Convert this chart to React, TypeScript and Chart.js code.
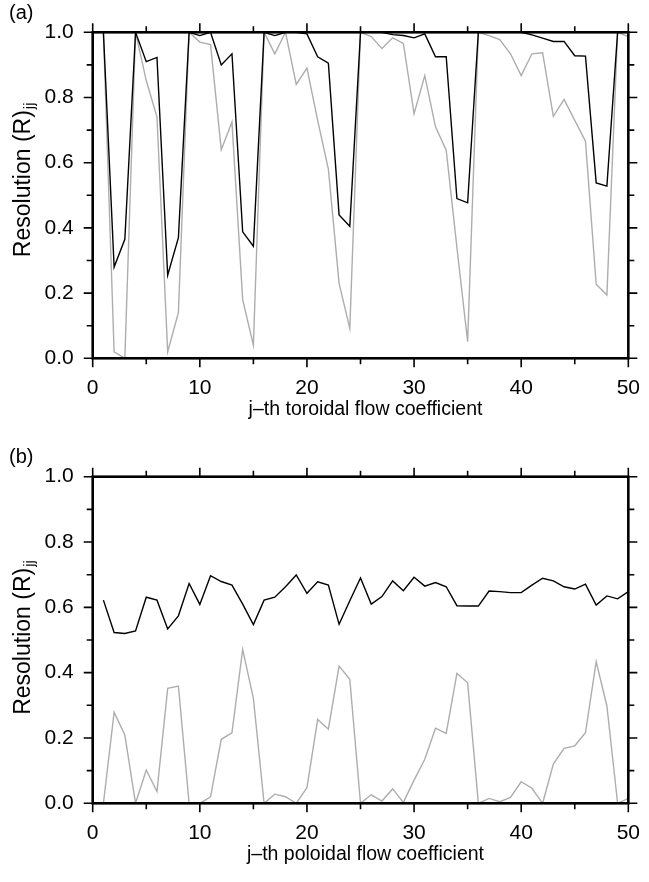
import React, { useEffect, useRef } from "react";
import { Chart, registerables } from "chart.js";

Chart.register(...registerables);

// ---- data ----
const jIndex = [
  1, 2, 3, 4, 5, 6, 7, 8, 9, 10, 11, 12, 13, 14, 15, 16, 17, 18, 19, 20, 21, 22, 23, 24, 25,
  26, 27, 28, 29, 30, 31, 32, 33, 34, 35, 36, 37, 38, 39, 40, 41, 42, 43, 44, 45, 46, 47, 48, 49, 50,
];

const toroidalBlack = [
  1.0, 0.28, 0.365, 1.0, 0.91, 0.923, 0.255, 0.37, 1.0, 0.99,
  1.0, 0.9, 0.934, 0.388, 0.344, 1.0, 0.99, 1.0, 1.0, 0.995,
  0.925, 0.905, 0.44, 0.405, 1.0, 1.0, 1.0, 0.993, 0.99, 0.983,
  0.995, 0.925, 0.925, 0.49, 0.477, 1.0, 1.0, 1.0, 1.0, 1.0,
  0.992, 0.982, 0.972, 0.972, 0.928, 0.927, 0.538, 0.528, 1.0, 1.0,
];

const toroidalGray = [
  1.0, 0.02, 0.0, 1.0, 0.852, 0.74, 0.02, 0.14, 1.0, 0.97,
  0.962, 0.64, 0.725, 0.18, 0.04, 1.0, 0.934, 1.0, 0.84, 0.89,
  0.73, 0.58, 0.23, 0.092, 1.0, 0.987, 0.95, 0.983, 0.966, 0.75,
  0.867, 0.71, 0.638, 0.34, 0.051, 1.0, 0.99, 0.978, 0.934, 0.867,
  0.934, 0.937, 0.742, 0.794, 0.73, 0.666, 0.227, 0.194, 1.0, 0.987,
];

const poloidalBlack = [
  0.622, 0.523, 0.52, 0.528, 0.631, 0.622, 0.534, 0.574, 0.673, 0.609,
  0.697, 0.679, 0.668, 0.61, 0.547, 0.622, 0.631, 0.663, 0.699, 0.643,
  0.678, 0.668, 0.548, 0.62, 0.69, 0.61, 0.633, 0.681, 0.651, 0.692,
  0.665, 0.676, 0.663, 0.605, 0.604, 0.604, 0.65, 0.648, 0.645, 0.645,
  0.668, 0.689, 0.681, 0.663, 0.656, 0.671, 0.607, 0.635, 0.626, 0.648,
];

const poloidalGray = [
  0.0, 0.279, 0.209, 0.0, 0.102, 0.036, 0.352, 0.359, 0.0, 0.0,
  0.02, 0.196, 0.216, 0.471, 0.321, 0.0, 0.028, 0.02, 0.0, 0.048,
  0.257, 0.227, 0.42, 0.38, 0.0, 0.026, 0.007, 0.044, 0.003, 0.071,
  0.135, 0.23, 0.214, 0.398, 0.369, 0.0, 0.015, 0.005, 0.018, 0.066,
  0.046, 0.0, 0.12, 0.168, 0.176, 0.216, 0.434, 0.298, 0.0, 0.015,
];

const xTickLabels = ["0", "10", "20", "30", "40", "50"];
const yTickLabels = ["0.0", "0.2", "0.4", "0.6", "0.8", "1.0"];

// ---- layout constants ----
const W = 649;
const H = 441;
const FONT = "'Liberation Sans', Arial, Helvetica, sans-serif";
const CHART_LEFT = 92.7;
const CHART_RIGHT = 636.7;

const framePlugin = {
  id: "frameTicks",
  afterDraw(chart: any, _args: any, opts: any) {
    const { ctx, chartArea: a, scales } = chart;
    const x = scales.x;
    const y = scales.y;
    ctx.save();
    ctx.strokeStyle = "#000";
    ctx.lineCap = "butt";
    ctx.lineWidth = 1.6;
    // x ticks (bottom & top)
    x.ticks.forEach((t: any) => {
      const px = x.getPixelForValue(t.value);
      const major = xTickLabels.includes(String(t.value));
      const len = major ? 9 : 6;
      ctx.beginPath();
      ctx.moveTo(px, a.bottom);
      ctx.lineTo(px, a.bottom + len);
      ctx.moveTo(px, a.top);
      ctx.lineTo(px, a.top - len);
      ctx.stroke();
    });
    // y ticks (left & right)
    y.ticks.forEach((t: any) => {
      const py = y.getPixelForValue(t.value);
      const major = yTickLabels.includes(Number(t.value).toFixed(1));
      const len = major ? 9 : 6;
      ctx.beginPath();
      ctx.moveTo(a.left, py);
      ctx.lineTo(a.left - len, py);
      ctx.moveTo(a.right, py);
      ctx.lineTo(a.right + len, py);
      ctx.stroke();
    });
    // frame
    ctx.lineWidth = 2.6;
    ctx.strokeRect(a.left, a.top, a.right - a.left, a.bottom - a.top);

    // x title
    ctx.fillStyle = "#000";
    ctx.textAlign = "center";
    ctx.textBaseline = "middle";
    ctx.font = `19.5px ${FONT}`;
    ctx.fillText(opts.xTitle, (a.left + a.right) / 2 + 5, a.bottom + 51);

    // y title with subscript
    const main = "Resolution (R)";
    const sub = "jj";
    ctx.font = `23px ${FONT}`;
    const mw = ctx.measureText(main).width;
    ctx.font = `15px ${FONT}`;
    const sw = ctx.measureText(sub).width;
    const total = mw + sw;
    ctx.save();
    ctx.translate(22, (a.top + a.bottom) / 2 + opts.yTitleShift);
    ctx.rotate(-Math.PI / 2);
    ctx.textAlign = "left";
    ctx.textBaseline = "alphabetic";
    ctx.font = `23px ${FONT}`;
    ctx.fillText(main, -total / 2, 8);
    ctx.font = `15px ${FONT}`;
    ctx.fillText(sub, -total / 2 + mw + 1, 12);
    ctx.restore();

    // panel tag
    ctx.textAlign = "left";
    ctx.textBaseline = "middle";
    ctx.font = `20px ${FONT}`;
    ctx.fillText(opts.tag, 9, a.top - 19);
    ctx.restore();
  },
};

type PanelProps = {
  tag: string;
  xTitle: string;
  black: number[];
  gray: number[];
  chartTop: number;
  chartBottom: number;
  yTitleShift: number;
  top: number;
};

function Panel({ tag, xTitle, black, gray, chartTop, chartBottom, yTitleShift, top }: PanelProps) {
  const ref = useRef<HTMLCanvasElement | null>(null);
  useEffect(() => {
    if (!ref.current) return;
    const chart = new Chart(ref.current, {
      type: "line",
      data: {
        datasets: [
          {
            data: black.map((v, i) => ({ x: jIndex[i], y: v })),
            borderColor: "#000000",
            borderWidth: 1.4,
            pointRadius: 0,
            tension: 0,
            fill: false,
          },
          {
            data: gray.map((v, i) => ({ x: jIndex[i], y: v })),
            borderColor: "#adadad",
            borderWidth: 1.4,
            pointRadius: 0,
            tension: 0,
            fill: false,
          },
        ],
      },
      options: {
        responsive: false,
        animation: false,
        devicePixelRatio: 1,
        layout: { padding: { top: chartTop, right: W - CHART_RIGHT, left: 0, bottom: 0 } },
        plugins: {
          legend: { display: false },
          tooltip: { enabled: false },
          frameTicks: { tag, xTitle, yTitleShift },
        } as any,
        scales: {
          x: {
            type: "linear",
            min: 0,
            max: 50,
            afterFit: (s: any) => {
              s.height = H - chartBottom;
            },
            grid: { display: false },
            border: { display: false },
            ticks: {
              stepSize: 5,
              autoSkip: false,
              maxRotation: 0,
              minRotation: 0,
              padding: 9,
              color: "#000",
              font: { family: FONT, size: 21 },
              callback: (v: any) => {
                const s = String(v);
                return xTickLabels.includes(s) ? s : "";
              },
            },
          },
          y: {
            type: "linear",
            min: 0,
            max: 1,
            afterFit: (s: any) => {
              s.width = CHART_LEFT;
            },
            grid: { display: false },
            border: { display: false },
            ticks: {
              stepSize: 0.1,
              autoSkip: false,
              padding: 11,
              color: "#000",
              font: { family: FONT, size: 21 },
              callback: (v: any) => {
                const s = Number(v).toFixed(1);
                return yTickLabels.includes(s) ? s : "";
              },
            },
          },
        },
      } as any,
      plugins: [framePlugin],
    });
    return () => chart.destroy();
  }, [tag, xTitle, black, gray, chartTop, chartBottom, yTitleShift]);

  return (
    <canvas
      ref={ref}
      width={W}
      height={H}
      style={{ position: "absolute", left: 0, top, width: W, height: H, display: "block" }}
    />
  );
}

export default function App() {
  return (
    <div style={{ position: "absolute", left: 0, top: 0, width: W, height: 882, background: "#fff", overflow: "hidden" }}>
      <Panel
        tag="(a)"
        xTitle="j–th toroidal flow coefficient"
        black={toroidalBlack}
        gray={toroidalGray}
        chartTop={32.3}
        chartBottom={358.3}
        yTitleShift={-15}
        top={0}
      />
      <Panel
        tag="(b)"
        xTitle="j–th poloidal flow coefficient"
        black={poloidalBlack}
        gray={poloidalGray}
        chartTop={35.7}
        chartBottom={362.3}
        yTitleShift={-2}
        top={441}
      />
    </div>
  );
}
